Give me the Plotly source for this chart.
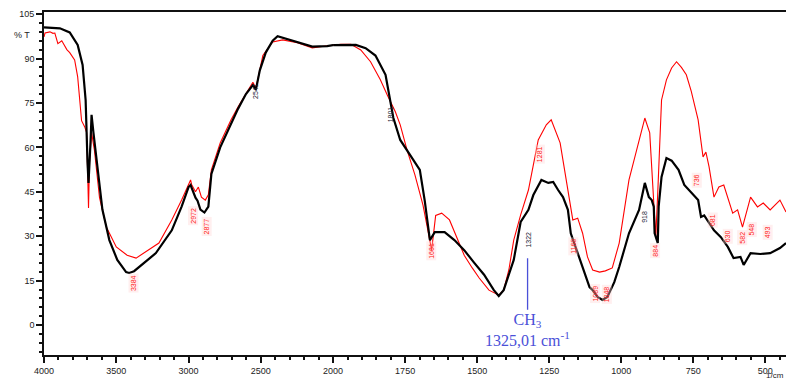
import plotly.graph_objects as go

# ---- data (wavenumber cm-1, %T) ----
black_w = [4000, 3890, 3822, 3767, 3733, 3712, 3699, 3692, 3678, 3671, 3658, 3630, 3596, 3548, 3493,
           3432, 3411, 3377, 3342, 3226, 3116, 3048, 3000, 2986, 2952, 2938, 2918, 2890, 2863, 2842,
           2781, 2706, 2658, 2603, 2555, 2534, 2507, 2466, 2418, 2384, 2315, 2247, 2144, 2041, 2000,
           1973, 1921, 1887, 1853, 1818, 1801, 1791, 1767, 1733, 1699, 1682, 1664, 1647, 1613, 1579,
           1545, 1510, 1476, 1442, 1425, 1408, 1373, 1349, 1322, 1305, 1277, 1253, 1236, 1219, 1202,
           1185, 1175, 1151, 1134, 1110, 1099, 1082, 1065, 1048, 1024, 1007, 973, 938, 921, 918, 904,
           894, 887, 884, 873, 870, 860, 843, 825, 801, 781, 757, 733, 723, 712, 678, 654, 630, 610,
           586, 575, 551, 517, 483, 449, 428]
black_t = [100.5, 100.2, 98.8, 94.6, 87.8, 76, 55, 48, 62, 71, 65, 53, 39, 28.7, 22,
           17.9, 17.6, 18.2, 19.6, 24.3, 32, 40, 46.6, 47.3, 43, 42, 39, 38, 40, 51,
           60, 68, 73, 78, 81, 79.5, 86, 92, 96, 97.5, 96.5, 95.6, 94, 94.2, 94.5,
           94.6, 94.6, 93.5, 91, 84.5, 76, 70, 62.5, 57.4, 52.4, 42, 28.7, 31.4, 31.4, 28.7,
           25.3, 21, 17, 11.8, 9.8, 11.8, 22, 34.8, 38.9, 43.9, 49, 48, 48.3, 45.6, 43.2,
           38.9, 31, 24.3, 19.6, 12.8, 11.8, 9.5, 8.5, 9.5, 14.5, 19.6, 31, 38.9, 46.6, 48, 43.2,
           42.2, 40, 31, 27.7, 40, 50, 56.4, 55.5, 52.4, 47.3, 44.6, 42.2, 36.5, 37, 32, 29.7, 26.4, 22.6,
           23, 20.3, 24.3, 24, 24.3, 26, 27.7]

red_w = [4000, 3993, 3959, 3938, 3925, 3904, 3877, 3842, 3822, 3788, 3767, 3753, 3740, 3719, 3705,
         3692, 3685, 3671, 3651, 3616, 3568, 3500, 3425, 3363, 3295, 3205, 3116, 3048, 2986, 2979,
         2952, 2932, 2911, 2884, 2863, 2842, 2781, 2706, 2658, 2589, 2555, 2534, 2486, 2418, 2349,
         2247, 2144, 2041, 2000, 1973, 1938, 1904, 1870, 1836, 1812, 1784, 1767, 1743, 1716, 1688,
         1671, 1658, 1644, 1623, 1596, 1568, 1545, 1517, 1493, 1459, 1425, 1408, 1390, 1373, 1349,
         1322, 1305, 1288, 1260, 1243, 1212, 1192, 1175, 1168, 1151, 1134, 1117, 1099, 1075, 1055,
         1031, 1007, 973, 938, 918, 901, 887, 880, 873, 866, 860, 843, 825, 808, 791, 774, 757,
         733, 716, 706, 695, 678, 661, 644, 613, 596, 579, 551, 527, 507, 483, 449, 428]
red_t = [97.3, 98.6, 99, 98.5, 98.6, 95, 96, 93, 92, 89.5, 83.8, 76, 69, 67, 65,
         39.5, 55, 65, 59, 43, 33, 26.4, 23.6, 22.6, 24.7, 27.7, 35.5, 42.2, 49, 47.5,
         45, 46.6, 43.2, 42.2, 44, 52.4, 61.5, 69.3, 73.6, 79.4, 82, 80, 91, 95.6, 96.3,
         95.3, 93.6, 94.3, 94.5, 94.8, 94.8, 92.9, 88.9, 82.8, 77.7, 72, 67.6, 59, 50.7, 40.5,
         32, 25.3, 37, 37.8, 35.5, 28.7, 23.6, 19.3, 15.9, 11.8, 10.1, 11.8, 18.6, 28.7, 37.2,
         45.6, 54, 62.5, 67.6, 69.3, 61.5, 50, 38.9, 35.5, 36.1, 31, 23, 18.6, 17.9, 18.3,
         19.3, 27.7, 49, 62.5, 69.9, 64.9, 38.9, 29.7, 45, 64.9, 76, 82.8, 86.8, 88.9, 87, 84.5, 79,
         69.3, 56.8, 58.4, 53.4, 43.2, 46.6, 47.3, 37.8, 38.9, 33.1, 43.2, 39.9, 41.2, 38.9, 42.2, 38.2]

# peak labels (wavenumber, %T position, colour)
peak_w = [3384, 2972, 2877, 2541, 1801, 1661, 1322, 1281, 1168, 1089, 1048, 918, 884, 736, 681, 630, 582, 548, 493]
peak_t = [14.2, 36.8, 33.4, 79, 71.3, 25, 29, 57.8, 26.7, 10.5, 10.5, 36.5, 25, 49, 35.5, 29.9, 29.4, 32.4, 31.4]
peak_c = ["r", "r", "r", "k", "k", "r", "k", "r", "r", "r", "r", "k", "r", "r", "r", "r", "r", "r", "r"]

ticks1 = [4000, 3500, 3000, 2500, 2000]
ticks2 = [1750, 1500, 1250, 1000, 750, 500]
y_ticks = [0, 15, 30, 45, 60, 75, 90, 105]

BREAK = 2000
XMIN2 = 428

def split(ws, ts, hi):
    if hi:
        pts = [(w, t) for w, t in zip(ws, ts) if w >= BREAK]
    else:
        pts = [(w, t) for w, t in zip(ws, ts) if w <= BREAK]
    return [p[0] for p in pts], [p[1] for p in pts]

fig = go.Figure()
for ws, ts, col, wid in [(red_w, red_t, "#ff0000", 1.1), (black_w, black_t, "#000000", 2.2)]:
    x1, y1 = split(ws, ts, True)
    x2, y2 = split(ws, ts, False)
    fig.add_trace(go.Scatter(x=x1, y=y1, mode="lines", line=dict(color=col, width=wid),
                             xaxis="x", yaxis="y", showlegend=False, hoverinfo="skip"))
    fig.add_trace(go.Scatter(x=x2, y=y2, mode="lines", line=dict(color=col, width=wid),
                             xaxis="x2", yaxis="y", showlegend=False, hoverinfo="skip"))

split_frac = 293 / 752
tickfont = dict(family="Liberation Sans", size=9, color="#222")
axis_common = dict(showline=True, linecolor="#111", linewidth=1.6, mirror=True,
                   ticks="outside", ticklen=6, tickwidth=1.5, tickcolor="#111",
                   showgrid=False, zeroline=False, tickfont=tickfont)

annotations = []
for w, t, c in zip(peak_w, peak_t, peak_c):
    annotations.append(dict(x=w, y=t, xref="x" if w >= BREAK else "x2", yref="y",
                            text=str(w), showarrow=False, textangle=-90,
                            font=dict(family="Liberation Sans", size=7,
                                      color="#ff2020" if c == "r" else "#223"),
                            bgcolor="rgba(255,210,210,0.35)" if c == "r" else "rgba(0,0,0,0)"))

annotations.append(dict(x=1325, y=22.6, xref="x2", yref="y",
                        text="CH<sub>3</sub><br>1325,01 cm<sup>-1</sup>",
                        showarrow=True, arrowhead=0, arrowwidth=1.3, arrowcolor="#4a50d8",
                        ax=0, ay=72, standoff=0,
                        font=dict(family="Liberation Serif", size=16, color="#4a50d8")))
annotations.append(dict(x=0, y=98, xref="paper", yref="y", xanchor="right", xshift=-12,
                        text="% T", showarrow=False,
                        font=dict(family="Liberation Sans", size=9, color="#222")))
annotations.append(dict(x=(774 - 44) / 752, y=0, xref="paper", yref="paper", xanchor="left",
                        yanchor="middle", yshift=-20, text="1/cm", showarrow=False,
                        font=dict(family="Liberation Sans", size=8, color="#222")))

fig.update_layout(
    width=796, height=379,
    margin=dict(l=44, r=0, t=12, b=24),
    paper_bgcolor="white", plot_bgcolor="white",
    xaxis=dict(domain=[0, split_frac], range=[4000, BREAK], tickmode="array", tickvals=ticks1,
               minor=dict(dtick=100, tick0=0, ticklen=3, tickcolor="#111", ticks="outside"),
               anchor="y", **axis_common),
    xaxis2=dict(domain=[split_frac, 1], range=[BREAK, XMIN2], tickmode="array", tickvals=ticks2,
                minor=dict(dtick=50, tick0=0, ticklen=3, tickcolor="#111", ticks="outside"),
                anchor="y", **axis_common),
    yaxis=dict(range=[-10.1, 105.7], tickmode="array", tickvals=y_ticks,
               minor=dict(dtick=3, tick0=0, ticklen=3, tickcolor="#111", ticks="outside"),
               showline=True, linecolor="#111", linewidth=1.6, ticks="outside", ticklen=6,
               tickwidth=1.5, tickcolor="#111", showgrid=False, zeroline=False, tickfont=tickfont),
    annotations=annotations,
)

fig.write_html("out.html", config={"displayModeBar": False},
               post_script="document.body.style.margin='0';document.body.style.overflow='hidden';")
